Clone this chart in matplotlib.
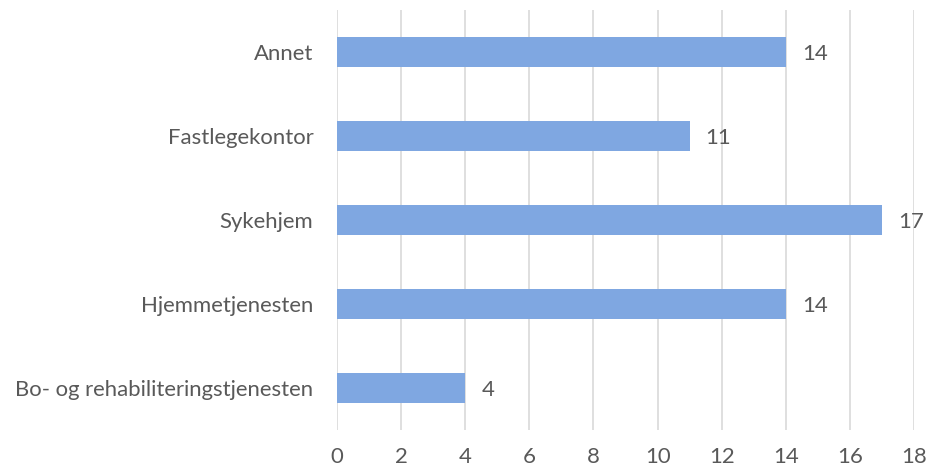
import matplotlib.pyplot as plt

categories = ["Bo- og rehabiliteringstjenesten", "Hjemmetjenesten", "Sykehjem",
              "Fastlegekontor", "Annet"]
values = [4, 14, 17, 11, 14]
x_ticks = [0, 2, 4, 6, 8, 10, 12, 14, 16, 18]

plt.rcParams["font.family"] = ["Lato", "DejaVu Sans"]
text_color = "#595959"
fs = 15.9

fig = plt.figure(figsize=(9.31, 4.69), dpi=100)
ax = fig.add_axes([0.362, 0.083, 0.6197, 0.896])

y_pos = range(len(categories))
ax.barh(y_pos, values, height=0.36, color="#7FA7E1", zorder=3)
for y, v in zip(y_pos, values):
    ax.text(v + 0.5, y, str(v), va="center_baseline", ha="left", fontsize=fs,
            color=text_color)

ax.set_xlim(0, 18)
ax.set_ylim(-0.5, len(categories) - 0.5)
ax.set_xticks(x_ticks)
ax.set_yticks(list(y_pos))
ax.set_yticklabels(categories)
ax.tick_params(axis="both", length=0, labelsize=fs, labelcolor=text_color)
ax.tick_params(axis="y", pad=17)
ax.tick_params(axis="x", pad=12)
ax.grid(axis="x", color="#D9D9D9", linewidth=1.2, zorder=0)
for s in ax.spines.values():
    s.set_visible(False)

plt.savefig("out.png", dpi=100)
